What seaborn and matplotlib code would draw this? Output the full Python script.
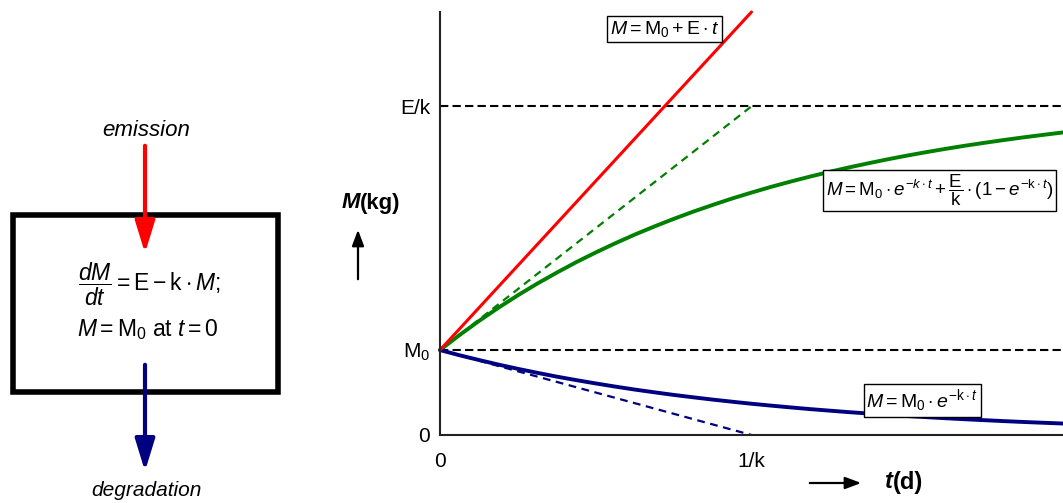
import pandas as pd
import seaborn as sns
import matplotlib.pyplot as plt

# time axis in units of 1/k, mass in units of M0
T = [0, 0.0625, 0.125, 0.1875, 0.25, 0.3125, 0.375, 0.4375, 0.5,
     0.5625, 0.625, 0.6875, 0.75, 0.8125, 0.875, 0.9375, 1.0,
     1.0625, 1.125, 1.1875, 1.25, 1.3125, 1.375, 1.4375, 1.5,
     1.5625, 1.625, 1.6875, 1.75, 1.8125, 1.875, 1.9375, 2.0]
GREEN_M = [1.000, 1.176, 1.342, 1.498, 1.645, 1.783, 1.912, 2.035, 2.149,
           2.257, 2.359, 2.454, 2.544, 2.629, 2.708, 2.784, 2.854,
           2.921, 2.983, 3.042, 3.098, 3.150, 3.199, 3.246, 3.290,
           3.331, 3.370, 3.407, 3.441, 3.474, 3.505, 3.534, 3.562]
BLUE_M = [1.000, 0.939, 0.883, 0.829, 0.779, 0.732, 0.687, 0.646, 0.607,
          0.570, 0.535, 0.503, 0.472, 0.444, 0.417, 0.392, 0.368,
          0.346, 0.325, 0.305, 0.287, 0.269, 0.253, 0.238, 0.223,
          0.210, 0.197, 0.185, 0.174, 0.163, 0.153, 0.144, 0.135]
RED_T = [0, 1.0]
RED_M = [1.0, 4.98]
TANGENT_T = [0, 1.0]
GREEN_TANGENT_M = [1.0, 3.87]
BLUE_TANGENT_M = [1.0, 0.0]

M0 = 1.0
E_OVER_K = 3.87
XTICKS = [0, 1.0]
XTICK_LABELS = ['0', '1/k']
YTICKS = [0, M0, E_OVER_K]
YTICK_LABELS = ['0', r'M$_0$', 'E/k']

RED = '#ff0000'
GREEN = '#008000'
NAVY = '#000080'

sns.set_style('white')
plt.rcParams['font.family'] = ['Liberation Sans', 'DejaVu Sans']
plt.rcParams['text.color'] = 'black'
plt.rcParams['xtick.color'] = 'black'
plt.rcParams['ytick.color'] = 'black'
plt.rcParams['mathtext.fontset'] = 'custom'
plt.rcParams['mathtext.rm'] = 'Liberation Sans'
plt.rcParams['mathtext.it'] = 'Liberation Sans:italic'
plt.rcParams['mathtext.bf'] = 'Liberation Sans:bold'

W, H = 1063, 503
fig = plt.figure(figsize=(W / 100, H / 100), dpi=100)

# overlay in pixel units for the box diagram and the axis labels
ov = fig.add_axes([0, 0, 1, 1])
ov.set_xlim(0, W)
ov.set_ylim(H, 0)
ov.axis('off')

ax = fig.add_axes([440 / W, 68 / H, 623 / W, 423 / H])
ax.patch.set_alpha(0)

curves = pd.DataFrame({'t': T, 'green': GREEN_M, 'blue': BLUE_M})

ax.axhline(E_OVER_K, color='black', lw=1.5, ls=(0, (4, 2)), zorder=1)
ax.axhline(M0, color='black', lw=1.5, ls=(0, (4, 2)), zorder=1)

sns.lineplot(x=TANGENT_T, y=GREEN_TANGENT_M, ax=ax, color=GREEN,
             lw=1.6, linestyle=(0, (3.5, 2.5)))
sns.lineplot(x=TANGENT_T, y=BLUE_TANGENT_M, ax=ax, color=NAVY,
             lw=1.6, linestyle=(0, (3.5, 2.5)))
sns.lineplot(data=curves, x='t', y='green', ax=ax, color=GREEN, lw=2.8)
sns.lineplot(data=curves, x='t', y='blue', ax=ax, color=NAVY, lw=2.8)
sns.lineplot(x=RED_T, y=RED_M, ax=ax, color=RED, lw=2.2)
for ln in ax.lines:
    ln.set_clip_on(False)

ax.set_xlim(0, 2.0)
ax.set_ylim(0, 4.98)
ax.set_xticks(XTICKS, XTICK_LABELS)
ax.set_yticks(YTICKS, YTICK_LABELS)
ax.tick_params(axis='both', length=0, labelsize=15, colors='black')
ax.tick_params(axis='x', pad=12)
ax.tick_params(axis='y', pad=7)
ax.set_xlabel('')
ax.set_ylabel('')
for side in ['top', 'right']:
    ax.spines[side].set_visible(False)
for side in ['left', 'bottom']:
    ax.spines[side].set_color('#222222')
    ax.spines[side].set_linewidth(1.5)

box = dict(boxstyle='square,pad=0.15', fc='white', ec='black', lw=1)
ax.text(0.721, 4.78, r'$M = \mathrm{M}_0 + \mathrm{E} \cdot t$',
        ha='center', va='center', fontsize=14, bbox=box, zorder=5)
ax.text(1.603, 2.88,
        r'$M = \mathrm{M}_0 \cdot e^{-k \cdot t} + \dfrac{\mathrm{E}}{\mathrm{k}}'
        r' \cdot (1 - e^{-\mathrm{k} \cdot t})$',
        ha='center', va='center', fontsize=13.5, bbox=box, zorder=5)
ax.text(1.548, 0.41, r'$M = \mathrm{M}_0 \cdot e^{-\mathrm{k} \cdot t}$',
        ha='center', va='center', fontsize=14, bbox=box, zorder=5)

# axis labels with arrows
ov.text(360, 203, 'M', ha='right', va='center', fontsize=16,
        fontweight='bold', fontstyle='italic')
ov.text(360, 203, '(kg)', ha='left', va='center', fontsize=16,
        fontweight='bold')
ov.annotate('', xy=(358, 227), xytext=(358, 282),
            arrowprops=dict(arrowstyle='-|>,head_length=0.8,head_width=0.3',
                            color='black', lw=1.6, mutation_scale=12))
ov.text(893, 482, 't', ha='right', va='center', fontsize=17,
        fontweight='bold', fontstyle='italic')
ov.text(893, 482, '(d)', ha='left', va='center', fontsize=17,
        fontweight='bold')
ov.annotate('', xy=(864, 483), xytext=(807, 483),
            arrowprops=dict(arrowstyle='-|>,head_length=0.8,head_width=0.3',
                            color='black', lw=1.6, mutation_scale=12))

# box model on the left
ov.add_patch(plt.Rectangle((13, 215), 265, 177, fill=False, ec='black', lw=4))
ov.annotate('', xy=(145, 256), xytext=(145, 143),
            arrowprops=dict(arrowstyle='-|>,head_length=1.3,head_width=0.4',
                            color=RED, lw=3, mutation_scale=15))
ov.annotate('', xy=(145, 474), xytext=(145, 362),
            arrowprops=dict(arrowstyle='-|>,head_length=1.3,head_width=0.4',
                            color=NAVY, lw=3, mutation_scale=15))
ov.text(146, 131, 'emission', ha='center', va='center', fontsize=16,
        fontstyle='italic')
ov.text(146, 490, 'degradation', ha='center', va='center', fontsize=15,
        fontstyle='italic')
ov.text(149, 284,
        r'$\dfrac{dM}{dt} = \mathrm{E} - \mathrm{k} \cdot M;$',
        ha='center', va='center', fontsize=16.5)
ov.text(148, 330, r'$M = \mathrm{M}_0$ at $t = 0$',
        ha='center', va='center', fontsize=16.5)

fig.savefig('out.png', dpi=100)
